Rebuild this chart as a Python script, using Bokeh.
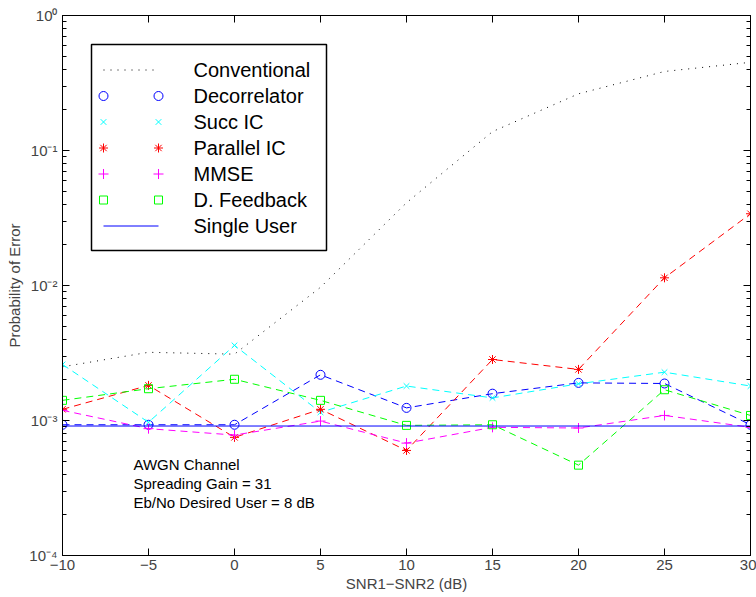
import numpy as np
from bokeh.plotting import figure
from bokeh.models import Range1d, FixedTicker, LinearAxis, LogAxis, Label, BoxAnnotation
from bokeh.embed import file_html
from bokeh.resources import INLINE

# ---------------- data ----------------
snr = [-10, -5, 0, 5, 10, 15, 20, 25, 30]
conventional = [2.5e-3, 3.2e-3, 3.1e-3, 9.7e-3, 4.1e-2, 1.38e-1, 2.63e-1, 3.85e-1, 4.5e-1]
decorrelator = [9.3e-4, 9.3e-4, 9.3e-4, 2.18e-3, 1.24e-3, 1.58e-3, 1.90e-3, 1.88e-3, 9.3e-4]
succ_ic = [2.6e-3, 9.7e-4, 3.6e-3, 1.15e-3, 1.80e-3, 1.47e-3, 1.87e-3, 2.28e-3, 1.80e-3]
parallel_ic = [1.21e-3, 1.82e-3, 7.5e-4, 1.21e-3, 6.0e-4, 2.83e-3, 2.39e-3, 1.14e-2, 3.4e-2]
mmse = [1.19e-3, 8.7e-4, 7.8e-4, 9.9e-4, 6.8e-4, 8.9e-4, 8.8e-4, 1.09e-3, 8.9e-4]
d_feedback = [1.41e-3, 1.72e-3, 2.02e-3, 1.41e-3, 9.2e-4, 9.3e-4, 4.67e-4, 1.69e-3, 1.09e-3]
single_user = [9.1e-4, 9.1e-4]
single_user_x = [snr[0], snr[-1]]

legend_labels = ["Conventional", "Decorrelator", "Succ IC", "Parallel IC",
                 "MMSE", "D. Feedback", "Single User"]
x_tick_labels = ["\u221210", "\u22125", "0", "5", "10", "15", "20", "25", "30"]
y_ticks = [1e-4, 1e-3, 1e-2, 1e-1, 1.0]
y_tick_labels = ["10\u207b\u2074", "10\u207b\u00b3", "10\u207b\u00b2", "10\u207b\u00b9", "10\u2070"]
notes = ["AWGN Channel", "Spreading Gain = 31", "Eb/No Desired User = 8 dB"]
x_label = "SNR1\u2212SNR2 (dB)"
y_label = "Probability of Error"

# ---------------- layout ----------------
W, H = 756, 597
FL, FR, FT, FB = 62, 750, 15, 555
X0, X1 = -10, 30
Y0, Y1 = 1e-4, 1.0
FONT = "Liberation Sans"


def px_x(px):
    return float(X0 + (px - FL) / (FR - FL) * (X1 - X0))


def px_y(py):
    l0, l1 = np.log10(Y0), np.log10(Y1)
    return float(10 ** (l1 - (py - FT) / (FB - FT) * (l1 - l0)))


p = figure(width=W, height=H, x_range=Range1d(X0, X1), y_range=Range1d(Y0, Y1),
           y_axis_type="log", output_backend="svg", toolbar_location=None,
           min_border_left=FL, min_border_right=W - FR, min_border_top=FT,
           min_border_bottom=H - FB)
p.background_fill_color = "white"
p.border_fill_color = "white"
p.outline_line_color = "black"
p.xgrid.visible = False
p.ygrid.visible = False

minor = [k * 10.0 ** d for d in range(-4, 0) for k in range(2, 10)]
xt = FixedTicker(ticks=snr, minor_ticks=[])
yt = FixedTicker(ticks=y_ticks, minor_ticks=minor)

xa = p.xaxis[0]
xa.ticker = xt
xa.major_label_overrides = {v: s for v, s in zip(snr, x_tick_labels)}
xa.major_label_text_font = FONT
xa.major_label_text_font_size = "15px"
xa.major_label_standoff = 4
xa.axis_label = x_label
xa.axis_label_text_font = FONT
xa.axis_label_text_font_size = "15px"
xa.axis_label_text_font_style = "normal"
xa.axis_label_standoff = 2

ya = p.yaxis[0]
ya.ticker = yt
ya.major_label_overrides = {v: s for v, s in zip(y_ticks, y_tick_labels)}
ya.major_label_text_font = FONT
ya.major_label_text_font_size = "15px"
ya.major_label_standoff = 5
ya.axis_label = y_label
ya.axis_label_text_font = FONT
ya.axis_label_text_font_size = "15px"
ya.axis_label_text_font_style = "normal"
ya.axis_label_standoff = 3

top = LinearAxis(ticker=xt)
right = LogAxis(ticker=yt)
p.add_layout(top, "above")
p.add_layout(right, "right")

for ax in [top, right]:
    ax.major_label_text_font_size = "1px"
    ax.major_label_text_alpha = 0
    ax.major_label_standoff = 0

for ax in [xa, ya, top, right]:
    ax.axis_line_color = "black"
    ax.major_tick_line_color = "black"
    ax.minor_tick_line_color = "black"
    ax.major_tick_in = 7
    ax.major_tick_out = 0
    ax.minor_tick_in = 4
    ax.minor_tick_out = 0

# ---------------- data series ----------------
DASH = "7 5"
p.line(snr, conventional, line_color="black", line_dash="1 6", line_width=1)
series = [
    (decorrelator, "#0000FF", "circle", 9),
    (succ_ic, "#00FFFF", "x", 8),
    (parallel_ic, "#FF0000", "asterisk", 9),
    (mmse, "#FF00FF", "cross", 10),
    (d_feedback, "#00FF00", "square", 8),
]
for vals, col, mk, sz in series:
    p.line(snr, vals, line_color=col, line_dash=DASH, line_width=1)
    p.scatter(snr, vals, marker=mk, size=sz, line_color=col, fill_color=None, line_width=1)
p.line(single_user_x, single_user, line_color="#0000FF", line_width=1)

# ---------------- legend ----------------
box = BoxAnnotation(left=px_x(91), right=px_x(326), top=px_y(44), bottom=px_y(250),
                    fill_color="white", fill_alpha=1.0, line_color="black",
                    line_alpha=1.0, line_width=1.5, level="underlay")
p.add_layout(box)

row0, drow = 69.5, 26
mx_a, mx_b, tx = 103, 158, 193
for i, lab in enumerate(legend_labels):
    ry = px_y(row0 + i * drow)
    if i == 0:
        p.line([px_x(mx_a), px_x(mx_b - 4)], [ry, ry], line_color="black",
               line_dash="1 6", line_width=1)
    elif i == len(legend_labels) - 1:
        p.line([px_x(mx_a), px_x(mx_b)], [ry, ry], line_color="#0000FF", line_width=1)
    else:
        vals, col, mk, sz = series[i - 1]
        p.scatter([px_x(mx_a), px_x(mx_b)], [ry, ry], marker=mk, size=sz,
                  line_color=col, fill_color=None, line_width=1)
    p.add_layout(Label(x=px_x(tx), y=ry, text=lab, text_font=FONT,
                       text_font_size="20px", text_align="left",
                       text_baseline="middle", text_color="black"))

# ---------------- notes ----------------
for i, t in enumerate(notes):
    p.add_layout(Label(x=px_x(133), y=px_y(464 + 19 * i), text=t, text_font=FONT,
                       text_font_size="15px", text_align="left",
                       text_baseline="middle", text_color="black"))

open("out.html", "w").write(file_html(p, INLINE))
